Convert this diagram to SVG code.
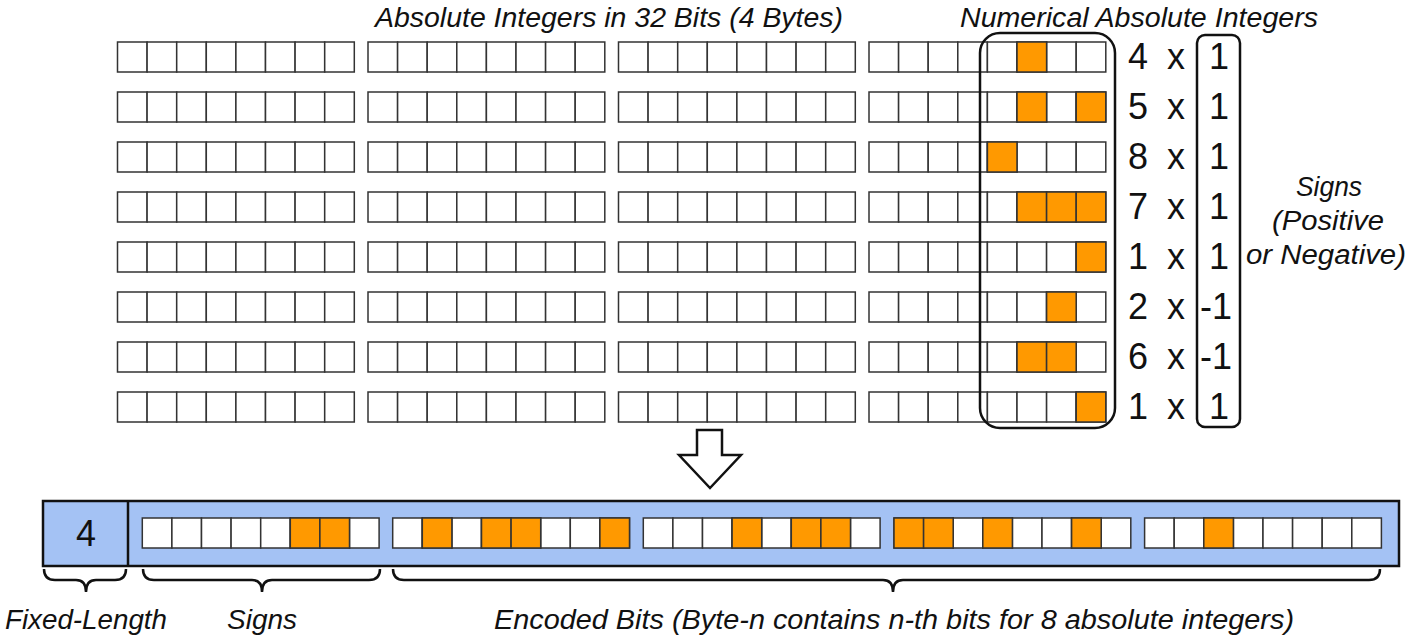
<svg xmlns="http://www.w3.org/2000/svg" xmlns:xlink="http://www.w3.org/1999/xlink" width="1410" height="635" viewBox="0 0 1410 635">
<style>
.c{fill:#fff;stroke:#333;stroke-width:1.5}
.o{fill:#ff9900;stroke:#333;stroke-width:1.5}
.box{fill:none;stroke:#111;stroke-width:2.5}
.t{font-family:"Liberation Sans",Arial,sans-serif;fill:#111}
.i{font-style:italic;font-size:27px;text-anchor:middle}
.n{font-size:36px;text-anchor:middle}
.br{fill:none;stroke:#111;stroke-width:2.5}
</style>
<defs>
<g id="byte">
<rect class="c" x="0" y="0" width="29.6" height="30"/><rect class="c" x="29.6" y="0" width="29.6" height="30"/><rect class="c" x="59.2" y="0" width="29.6" height="30"/><rect class="c" x="88.8" y="0" width="29.6" height="30"/><rect class="c" x="118.4" y="0" width="29.6" height="30"/><rect class="c" x="148" y="0" width="29.6" height="30"/><rect class="c" x="177.6" y="0" width="29.6" height="30"/><rect class="c" x="207.2" y="0" width="29.6" height="30"/>
</g>
<g id="row"><use xlink:href="#byte" x="117.5"/><use xlink:href="#byte" x="368"/><use xlink:href="#byte" x="618.5"/><use xlink:href="#byte" x="869"/></g>
</defs>
<rect width="1410" height="635" fill="#fff"/>
<g id="titles">
<text class="t i" x="609" y="27" textLength="468" lengthAdjust="spacingAndGlyphs">Absolute Integers in 32 Bits (4 Bytes)</text>
<text class="t i" x="1139" y="27" textLength="358" lengthAdjust="spacingAndGlyphs">Numerical Absolute Integers</text>
</g>
<g id="top-grid">
<use xlink:href="#row" y="42"/><use xlink:href="#row" y="92"/><use xlink:href="#row" y="142"/><use xlink:href="#row" y="192"/><use xlink:href="#row" y="242"/><use xlink:href="#row" y="292"/><use xlink:href="#row" y="342"/><use xlink:href="#row" y="392"/>
<rect class="o" x="1017" y="42" width="29.6" height="30"/>
<rect class="o" x="1017" y="92" width="29.6" height="30"/><rect class="o" x="1076.2" y="92" width="29.6" height="30"/>
<rect class="o" x="987.4" y="142" width="29.6" height="30"/>
<rect class="o" x="1017" y="192" width="29.6" height="30"/><rect class="o" x="1046.6" y="192" width="29.6" height="30"/><rect class="o" x="1076.2" y="192" width="29.6" height="30"/>
<rect class="o" x="1076.2" y="242" width="29.6" height="30"/>
<rect class="o" x="1046.6" y="292" width="29.6" height="30"/>
<rect class="o" x="1017" y="342" width="29.6" height="30"/><rect class="o" x="1046.6" y="342" width="29.6" height="30"/>
<rect class="o" x="1076.2" y="392" width="29.6" height="30"/>
</g>
<g id="num-box">
<rect class="box" x="980" y="33" width="135" height="395" rx="20"/>
<text class="t n" x="1138" y="69">4</text><text class="t n" x="1138" y="119">5</text><text class="t n" x="1138" y="169">8</text><text class="t n" x="1138" y="219">7</text><text class="t n" x="1138" y="269">1</text><text class="t n" x="1138" y="319">2</text><text class="t n" x="1138" y="369">6</text><text class="t n" x="1138" y="419">1</text>
<text class="t n" x="1176" y="69">x</text><text class="t n" x="1176" y="119">x</text><text class="t n" x="1176" y="169">x</text><text class="t n" x="1176" y="219">x</text><text class="t n" x="1176" y="269">x</text><text class="t n" x="1176" y="319">x</text><text class="t n" x="1176" y="369">x</text><text class="t n" x="1176" y="419">x</text>
</g>
<g id="sign-box">
<rect class="box" x="1197" y="35" width="43" height="392" rx="8"/>
<text class="t n" x="1219" y="69">1</text><text class="t n" x="1219" y="119">1</text><text class="t n" x="1219" y="169">1</text><text class="t n" x="1219" y="219">1</text><text class="t n" x="1219" y="269">1</text><text class="t n" x="1216" y="319">-1</text><text class="t n" x="1216" y="369">-1</text><text class="t n" x="1219" y="419">1</text>
</g>
<g id="signs-label">
<text class="t i" x="1329" y="196" textLength="66" lengthAdjust="spacingAndGlyphs">Signs</text>
<text class="t i" x="1328" y="230" textLength="112" lengthAdjust="spacingAndGlyphs">(Positive</text>
<text class="t i" x="1326" y="264" textLength="160" lengthAdjust="spacingAndGlyphs">or Negative)</text>
</g>
<g id="connectors">
<path d="M697,430 L722,430 L722,455 L741,455 L710,488 L679,455 L697,455 Z" fill="#fff" stroke="#111" stroke-width="2.5" stroke-linejoin="miter"/>
</g>
<g id="bar">
<rect x="43" y="501" width="1356" height="65" fill="#a4c2f4" stroke="#111" stroke-width="2.5"/>
<line x1="128" y1="501" x2="128" y2="566" stroke="#111" stroke-width="2.5"/>
<text class="t n" x="86" y="546">4</text>
<g transform="translate(0,-1)">
<use xlink:href="#byte" x="142.3" y="519"/><use xlink:href="#byte" x="392.7" y="519"/><use xlink:href="#byte" x="643.3" y="519"/><use xlink:href="#byte" x="894" y="519"/><use xlink:href="#byte" x="1144.6" y="519"/>
<rect class="o" x="290.3" y="519" width="29.6" height="30"/><rect class="o" x="319.9" y="519" width="29.6" height="30"/>
<rect class="o" x="422.3" y="519" width="29.6" height="30"/><rect class="o" x="481.5" y="519" width="29.6" height="30"/><rect class="o" x="511.1" y="519" width="29.6" height="30"/><rect class="o" x="599.9" y="519" width="29.6" height="30"/>
<rect class="o" x="732.1" y="519" width="29.6" height="30"/><rect class="o" x="791.3" y="519" width="29.6" height="30"/><rect class="o" x="820.9" y="519" width="29.6" height="30"/>
<rect class="o" x="894" y="519" width="29.6" height="30"/><rect class="o" x="923.6" y="519" width="29.6" height="30"/><rect class="o" x="982.8" y="519" width="29.6" height="30"/><rect class="o" x="1071.6" y="519" width="29.6" height="30"/>
<rect class="o" x="1203.8" y="519" width="29.6" height="30"/>
</g>
</g>
<g id="braces">
<path class="br" d="M44,569 Q44,580 55,580 L76,580 Q86,580 86,592 Q86,580 96,580 L115,580 Q126,580 126,569"/>
<path class="br" d="M143,569 Q143,580 154,580 L252,580 Q262,580 262,592 Q262,580 272,580 L369,580 Q380,580 380,569"/>
<path class="br" d="M393,569 Q393,580 404,580 L883,580 Q893,580 893,592 Q893,580 903,580 L1369,580 Q1380,580 1380,569"/>
</g>
<g id="bottom-labels">
<text class="t i" x="86" y="629" textLength="162" lengthAdjust="spacingAndGlyphs">Fixed-Length</text>
<text class="t i" x="262" y="629" textLength="70" lengthAdjust="spacingAndGlyphs">Signs</text>
<text class="t i" x="894" y="629" textLength="800" lengthAdjust="spacingAndGlyphs">Encoded Bits (Byte-n contains n-th bits for 8 absolute integers)</text>
</g>
</svg>
